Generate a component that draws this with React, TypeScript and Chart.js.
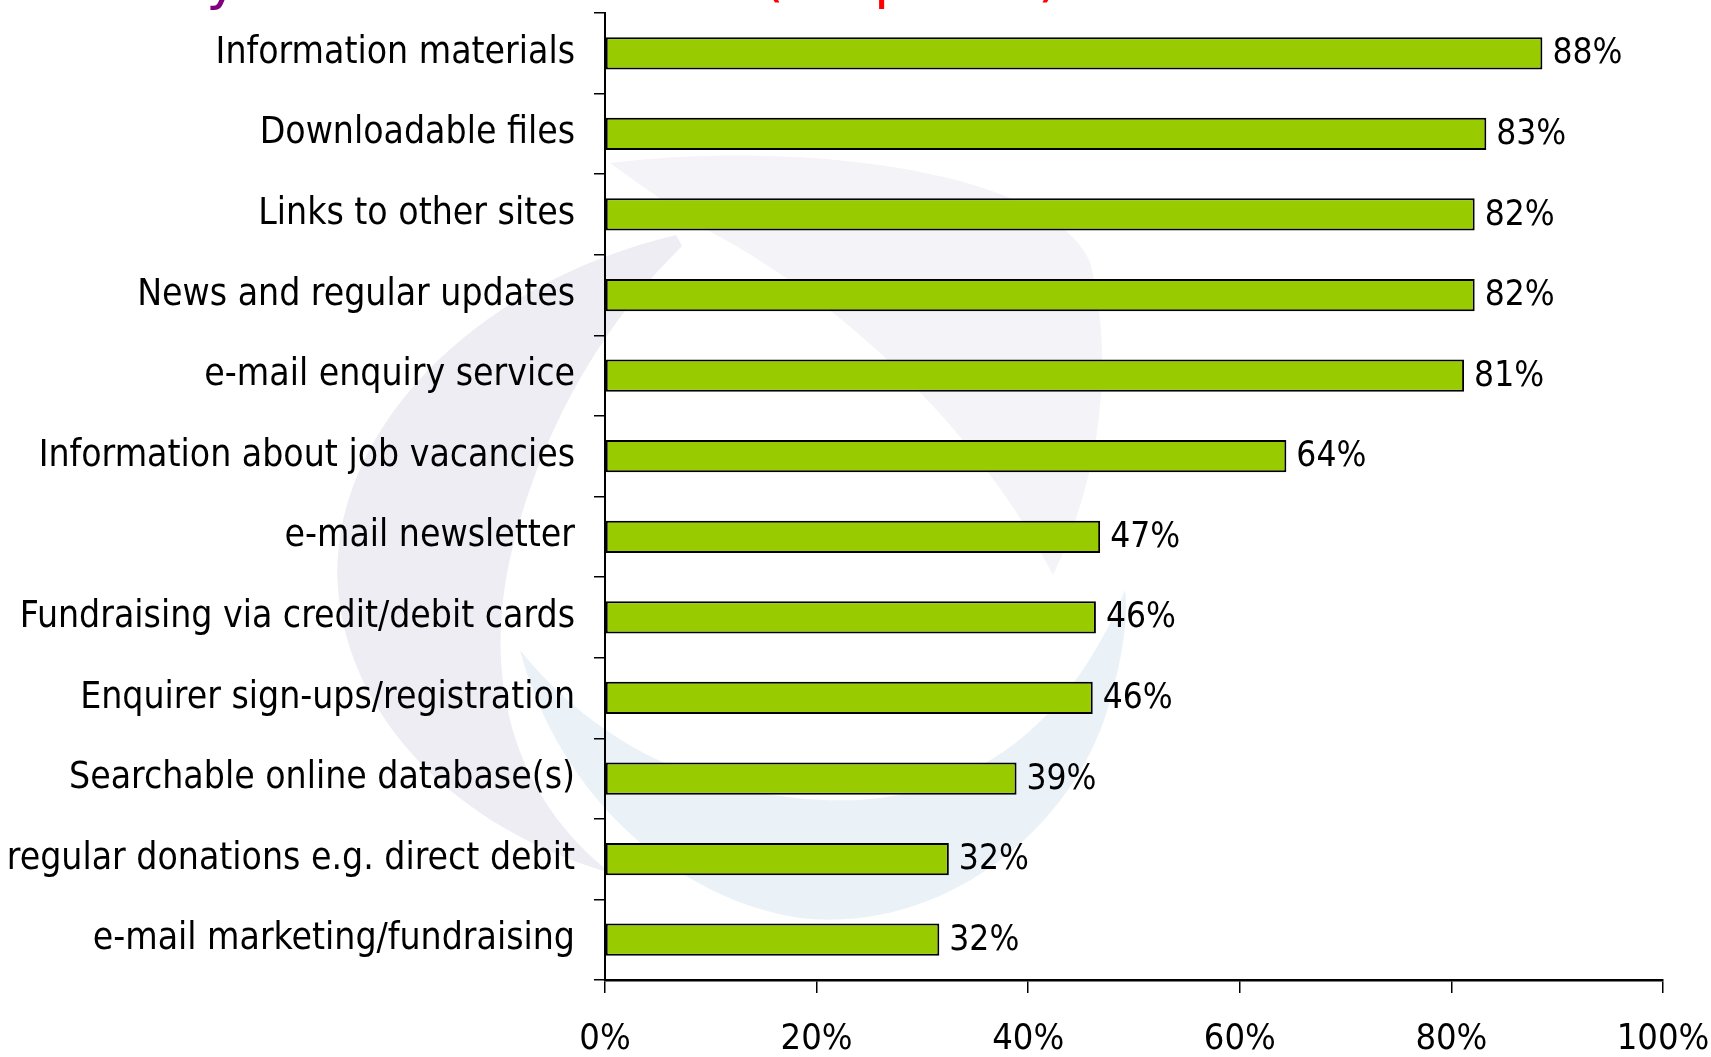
import React, { useEffect, useRef } from "react";
import { Chart, registerables } from "chart.js";

Chart.register(...registerables);

const categories = [
  "Information materials",
  "Downloadable files",
  "Links to other sites",
  "News and regular updates",
  "e-mail enquiry service",
  "Information about job vacancies",
  "e-mail newsletter",
  "Fundraising via credit/debit cards",
  "Enquirer sign-ups/registration",
  "Searchable online database(s)",
  "regular donations e.g. direct debit",
  "e-mail marketing/fundraising",
];
const values = [88.6, 83.3, 82.2, 82.2, 81.2, 64.4, 46.8, 46.4, 46.1, 38.9, 32.5, 31.6];
const valueLabels = ["88%", "83%", "82%", "82%", "81%", "64%", "47%", "46%", "46%", "39%", "32%", "32%"];
const xTicks = [0, 20, 40, 60, 80, 100];

const FONT = "'DejaVu Sans Condensed', 'Liberation Sans Narrow', 'DejaVu Sans', sans-serif";

const backgroundPlugin = {
  id: "bgDeco",
  beforeDraw(chart: any) {
    const ctx = chart.ctx as CanvasRenderingContext2D;
    ctx.save();
    ctx.fillStyle = "#ffffff";
    ctx.fillRect(0, 0, chart.width, chart.height);
    // faint watermark swoosh (lavender)
    ctx.fillStyle = "#eeedf3";
    ctx.beginPath();
    ctx.moveTo(676, 235);
    ctx.bezierCurveTo(470, 284, 327, 436, 338, 589);
    ctx.bezierCurveTo(349, 720, 458, 829, 611, 873);
    ctx.bezierCurveTo(513, 797, 480, 677, 513, 546);
    ctx.bezierCurveTo(546, 415, 611, 316, 682, 246);
    ctx.closePath();
    ctx.fill();
    ctx.fillStyle = "#f4f3f8";
    ctx.beginPath();
    ctx.moveTo(610, 163);
    ctx.bezierCurveTo(800, 140, 1050, 170, 1090, 262);
    ctx.bezierCurveTo(1120, 380, 1090, 500, 1053, 575);
    ctx.bezierCurveTo(1000, 470, 880, 320, 700, 226);
    ctx.bezierCurveTo(670, 205, 640, 185, 610, 163);
    ctx.closePath();
    ctx.fill();
    // faint watermark swoosh (blue)
    ctx.fillStyle = "#eaf2f8";
    ctx.beginPath();
    ctx.moveTo(520, 650);
    ctx.bezierCurveTo(560, 800, 680, 900, 800, 918);
    ctx.bezierCurveTo(950, 935, 1080, 820, 1110, 700);
    ctx.bezierCurveTo(1125, 650, 1128, 610, 1125, 590);
    ctx.bezierCurveTo(1080, 700, 1000, 790, 860, 800);
    ctx.bezierCurveTo(720, 805, 600, 750, 520, 650);
    ctx.closePath();
    ctx.fill();
    // cut-off title fragments
    ctx.font = "56px 'DejaVu Sans', sans-serif";
    ctx.textBaseline = "alphabetic";
    ctx.fillStyle = "#800080";
    ctx.fillText("y", 206, -2);
    ctx.fillStyle = "#ff0000";
    ctx.fillText("(", 762, -5);
    ctx.fillText("p", 874, -3);
    ctx.fillText(")", 1038, -5);
    ctx.restore();
  },
};

const valueLabelPlugin = {
  id: "valueLabels",
  afterDatasetsDraw(chart: any) {
    const ctx = chart.ctx as CanvasRenderingContext2D;
    const meta = chart.getDatasetMeta(0);
    ctx.save();
    ctx.font = `35px ${FONT}`;
    ctx.fillStyle = "#000000";
    ctx.textAlign = "left";
    ctx.textBaseline = "middle";
    meta.data.forEach((bar: any, i: number) => {
      ctx.fillText(valueLabels[i], bar.x + 10, bar.y + 1);
    });
    ctx.restore();
  },
};

export default function App() {
  const canvasRef = useRef<HTMLCanvasElement | null>(null);

  useEffect(() => {
    if (!canvasRef.current) return;
    const chart = new Chart(canvasRef.current, {
      type: "bar",
      data: {
        labels: categories,
        datasets: [
          {
            data: values,
            backgroundColor: "#99cc00",
            borderColor: "#000000",
            borderWidth: 2,
            borderSkipped: false,
            barPercentage: 0.4,
            categoryPercentage: 1,
          },
        ],
      },
      options: {
        indexAxis: "y",
        responsive: false,
        animation: false,
        maintainAspectRatio: false,
        layout: { padding: { top: 13, right: 48, left: 0, bottom: 0 } },
        plugins: {
          legend: { display: false },
          tooltip: { enabled: false },
          title: { display: false },
        },
        scales: {
          x: {
            min: 0,
            max: 100,
            afterBuildTicks(scale: any) {
              scale.ticks = xTicks.map((v) => ({ value: v }));
            },
            afterFit(scale: any) {
              scale.height = 77;
              scale.paddingLeft = 0;
              scale.paddingRight = 0;
              scale.paddingTop = 0;
              scale.paddingBottom = 0;
            },
            ticks: {
              callback: (v: any) => `${v}%`,
              color: "#000000",
              font: { family: FONT, size: 36 },
              padding: 25,
              maxRotation: 0,
              autoSkip: false,
            },
            grid: {
              display: true,
              drawOnChartArea: false,
              drawTicks: true,
              tickLength: 13,
              color: "#000000",
              lineWidth: 1.5,
            },
            border: { display: true, color: "#000000", width: 2.5 },
          },
          y: {
            afterFit(scale: any) {
              scale.width = 605;
              scale.paddingLeft = 0;
              scale.paddingRight = 0;
              scale.paddingTop = 0;
              scale.paddingBottom = 0;
            },
            ticks: {
              color: "#000000",
              font: { family: FONT, size: 37 },
              padding: 19,
              autoSkip: false,
            },
            grid: {
              display: true,
              offset: true,
              drawOnChartArea: false,
              drawTicks: true,
              tickLength: 11,
              color: "#000000",
              lineWidth: 1.5,
            },
            border: { display: true, color: "#000000", width: 2 },
          },
        },
      },
      plugins: [backgroundPlugin, valueLabelPlugin],
    });
    return () => chart.destroy();
  }, []);

  return (
    <div style={{ position: "fixed", left: 0, top: 0, width: 1711, height: 1057, background: "#fff" }}>
      <canvas ref={canvasRef} width={1711} height={1057} style={{ width: 1711, height: 1057, display: "block" }} />
    </div>
  );
}
